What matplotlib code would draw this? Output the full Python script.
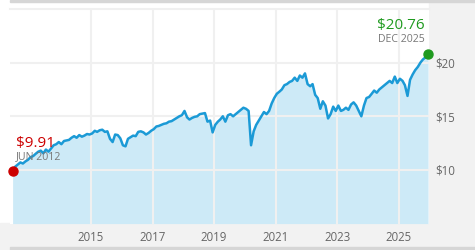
import matplotlib
matplotlib.use('Agg')
import numpy as np
import pandas as pd
import matplotlib.pyplot as plt
from matplotlib.patches import Rectangle

plt.rcParams['font.family'] = ['Open Sans', 'DejaVu Sans']

# monthly prices, Jun 2012 .. Dec 2025
prices = [
    9.91, 10.3, 10.5, 10.7, 10.6, 10.8, 10.95,                                   # 2012
    11.2, 11.3, 11.5, 11.7, 11.8, 11.55, 11.9, 11.7, 12.0, 12.3, 12.4, 12.6,      # 2013
    12.4, 12.7, 12.75, 12.8, 13.0, 13.15, 13.0, 13.25, 13.1, 13.2, 13.35, 13.3,   # 2014
    13.4, 13.65, 13.55, 13.7, 13.75, 13.55, 13.6, 12.9, 12.6, 13.3, 13.25, 12.95, # 2015
    12.3, 12.2, 12.9, 13.05, 13.2, 13.15, 13.55, 13.6, 13.5, 13.3, 13.45, 13.65,  # 2016
    13.8, 14.05, 14.1, 14.2, 14.3, 14.35, 14.5, 14.55, 14.7, 14.85, 15.0, 15.1,   # 2017
    15.5, 14.9, 14.7, 14.85, 14.95, 15.0, 15.2, 15.25, 15.3, 14.5, 14.6, 13.5,    # 2018
    14.2, 14.5, 14.7, 15.0, 14.5, 15.1, 15.2, 15.0, 15.2, 15.4, 15.6, 15.8,       # 2019
    15.7, 15.5, 12.3, 13.6, 14.2, 14.6, 15.0, 15.4, 15.2, 15.5, 16.2, 16.7,       # 2020
    17.1, 17.3, 17.5, 17.9, 18.0, 18.2, 18.3, 18.6, 18.3, 18.8, 18.6, 19.0,       # 2021
    18.0, 17.8, 18.0, 17.0, 16.7, 15.7, 16.4, 16.0, 14.8, 15.2, 15.9, 15.5,       # 2022
    16.0, 15.5, 15.6, 15.8, 15.6, 16.1, 16.3, 16.0, 15.5, 15.0, 16.0, 16.7,       # 2023
    16.8, 17.1, 17.4, 17.2, 17.5, 17.7, 17.9, 18.1, 18.3, 18.1, 18.7, 18.1,       # 2024
    18.5, 18.3, 17.9, 16.9, 18.4, 18.9, 19.3, 19.6, 20.0, 20.3, 20.5, 20.76,      # 2025
]
months = pd.date_range('2012-06-01', periods=len(prices), freq='MS') + pd.Timedelta(days=14)

year_ticks = [2015, 2017, 2019, 2021, 2023, 2025]
price_ticks = [10, 15, 20]
price_labels = ['$10', '$15', '$20']

start_label = ('$9.91', 'JUN 2012')
end_label = ('$20.76', 'DEC 2025')

line_col = '#1b9ad6'
fill_col = '#cdeaf7'
grid_col = '#f0f0f0'
text_col = '#666666'
red = '#cc0000'
green = '#1f9a1f'

fig = plt.figure(figsize=(4.75, 2.5), dpi=100)
fig.patch.set_facecolor('white')
W, H = 475.0, 250.0
# gray right panel and bottom band, thin darker rules top and bottom
fig.patches.append(Rectangle((429 / W, 0), 1 - 429 / W, 248 / H, transform=fig.transFigure,
                             color='#f2f2f2', zorder=-2))
fig.patches.append(Rectangle((0, 0), 1, 27 / H, transform=fig.transFigure,
                             color='#f2f2f2', zorder=-2))
fig.patches.append(Rectangle((10 / W, 248 / H), 1, 2 / H, transform=fig.transFigure,
                             color='#d6d6d6', zorder=-1))
fig.patches.append(Rectangle((10 / W, 0), 1, 2.7 / H, transform=fig.transFigure,
                             color='#d6d6d6', zorder=-1))

ax = fig.add_axes([10 / W, 26.4 / H, 419 / W, 214.6 / H])
ax.set_facecolor('white')

ax.fill_between(months, prices, 5, color=fill_col, lw=0, zorder=1)
ax.plot(months, prices, color=line_col, lw=1.8, zorder=3, solid_joinstyle='round')

ax.set_ylim(5, 25)
ax.set_xlim(pd.Timestamp('2012-05-15'), pd.Timestamp('2025-12-26'))

ax.set_yticks(price_ticks)
ax.set_yticklabels(price_labels)
ax.set_xticks([pd.Timestamp(f'{y}-01-01') for y in year_ticks])
ax.set_xticklabels([str(y) for y in year_ticks])
ax.yaxis.tick_right()
ax.tick_params(axis='both', length=0, labelsize=8.3, labelcolor=text_col)
ax.tick_params(axis='y', pad=4.5)
ax.tick_params(axis='x', pad=5)

ax.set_axisbelow(False)
ax.grid(True, color=grid_col, lw=1.5, zorder=2)
for s in ['left', 'right', 'bottom']:
    ax.spines[s].set_visible(False)
ax.spines['top'].set_color(grid_col)
ax.spines['top'].set_linewidth(1.5)

# end point markers and labels
ax.plot(months[0], prices[0], 'o', color=red, ms=6.5, zorder=5, clip_on=False)
ax.plot(months[-1], prices[-1], 'o', color=green, ms=6.5, zorder=5, clip_on=False)

ax.annotate(start_label[0], (months[0], prices[0]), xytext=(3, 24), textcoords='offset pixels',
            color=red, fontsize=11, ha='left', va='baseline', zorder=6)
ax.annotate(start_label[1], (months[0], prices[0]), xytext=(3, 11.5), textcoords='offset pixels',
            color='#777777', fontsize=7.6, ha='left', va='baseline', zorder=6)
ax.annotate(end_label[0], (months[-1], prices[-1]), xytext=(-3, 25.5), textcoords='offset pixels',
            color=green, fontsize=11, ha='right', va='baseline', zorder=6)
ax.annotate(end_label[1], (months[-1], prices[-1]), xytext=(-3, 12.5), textcoords='offset pixels',
            color='#777777', fontsize=7.6, ha='right', va='baseline', zorder=6)

fig.savefig('out.png', dpi=100, facecolor=fig.get_facecolor())
